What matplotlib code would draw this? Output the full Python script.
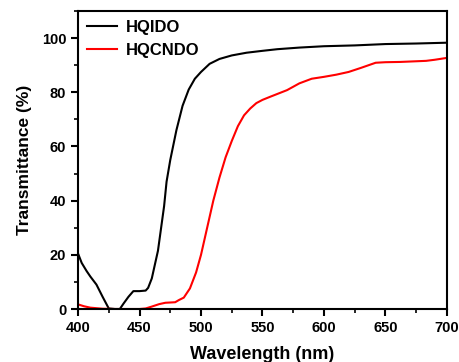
import matplotlib
matplotlib.use('Agg')
import matplotlib.pyplot as plt
from matplotlib.ticker import MultipleLocator

plt.rcParams['font.family'] = ['Liberation Sans', 'DejaVu Sans']
plt.rcParams['font.weight'] = 'bold'

# HQIDO (black)
wl_hqido = [400, 403, 407, 410, 415, 420, 425, 430, 434, 437, 441, 445, 450, 455, 457,
            460, 465, 470, 472, 475, 480, 485, 490, 495, 500, 507, 515, 525, 537,
            550, 562, 580, 600, 625, 650, 675, 700]
t_hqido = [20.5, 17, 14, 12, 9, 4.5, 0.2, 0, 0, 2, 4.5, 6.6, 6.6, 6.8, 7.8,
           11.3, 21.5, 38, 47, 55, 66, 75, 81, 85, 87.5, 90.5, 92.3, 93.6, 94.6,
           95.3, 95.9, 96.5, 97, 97.3, 97.8, 98, 98.3]

# HQCNDO (red)
wl_hqcndo = [400, 405, 410, 415, 420, 430, 450, 455, 460, 466, 471, 475, 479, 482,
             486, 491, 496, 500, 505, 510, 515, 520, 525, 530, 535, 540, 545, 550,
             556, 570, 580, 590, 600, 610, 620, 630, 642, 650, 662, 683, 690, 700]
t_hqcndo = [1.7, 1, 0.5, 0.3, 0.1, 0, 0, 0.2, 0.9, 1.8, 2.3, 2.4, 2.5, 3.3,
            4.2, 7.6, 13.5, 20, 30, 40, 48.5, 56, 62, 67.5, 71.5, 74, 76, 77.2,
            78.3, 80.8, 83.3, 85, 85.7, 86.5, 87.5, 89, 90.9, 91.1, 91.2, 91.6, 92, 92.7]

fig = plt.figure(figsize=(4.6, 3.62), dpi=100)
ax = fig.add_axes([0.1696, 0.1464, 0.8021, 0.8232])

ax.plot(wl_hqido, t_hqido, color='black', lw=1.5, label='HQIDO')
ax.plot(wl_hqcndo, t_hqcndo, color='red', lw=1.5, label='HQCNDO')

ax.set_xlim(400, 700)
ax.set_ylim(0, 110)
ax.xaxis.set_major_locator(MultipleLocator(50))
ax.xaxis.set_minor_locator(MultipleLocator(25))
ax.yaxis.set_minor_locator(MultipleLocator(10))
ax.set_yticks([0, 20, 40, 60, 80, 100])

for s in ax.spines.values():
    s.set_linewidth(1.5)
ax.tick_params(which='major', direction='out', length=5, width=1.5, labelsize=10.5)
ax.tick_params(which='minor', direction='out', length=3, width=1.2)

ax.set_xlabel('Wavelength (nm)', fontsize=13, fontweight='bold', labelpad=8)
ax.set_ylabel('Transmittance (%)', fontsize=12.5, fontweight='bold', labelpad=7)

ax.legend(loc='upper left', frameon=False, fontsize=12, handlelength=1.8,
          borderaxespad=0.15, labelspacing=0.45, handletextpad=0.55)

fig.savefig('out.png', dpi=100)
